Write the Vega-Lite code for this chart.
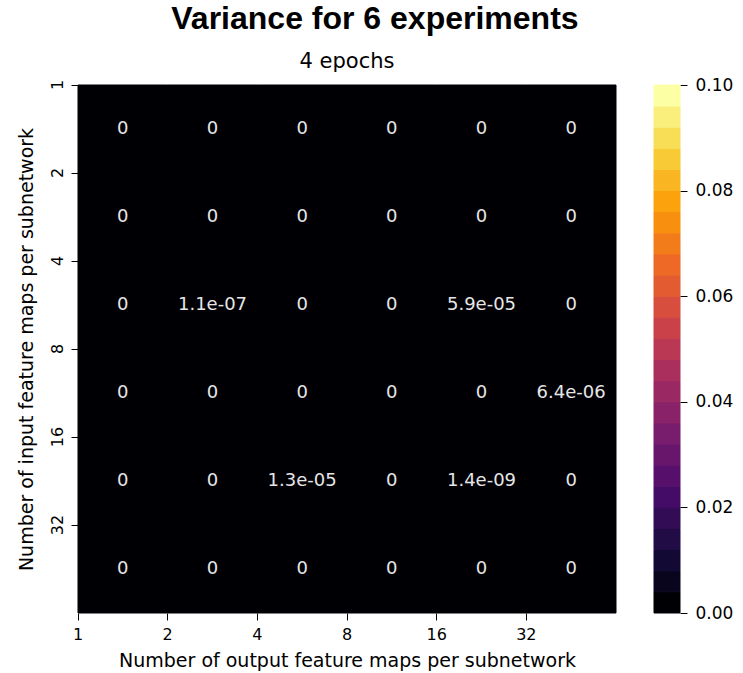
{
  "$schema": "https://vega.github.io/schema/vega-lite/v6.json",
  "background": "white",
  "padding": {"left": 17, "top": 3, "right": 5, "bottom": 5},
  "title": {
    "text": "Variance for 6 experiments",
    "font": "Liberation Sans",
    "fontSize": 32,
    "fontWeight": "bold",
    "color": "#000000",
    "anchor": "middle",
    "offset": 15
  },
  "config": {
    "view": {"stroke": null},
    "font": "DejaVu Sans",
    "axis": {
      "labelFont": "DejaVu Sans",
      "titleFont": "DejaVu Sans",
      "labelFontSize": 16,
      "titleFontSize": 19,
      "titleFontWeight": "normal",
      "labelColor": "#000000",
      "titleColor": "#000000",
      "tickColor": "#000000",
      "tickSize": 7,
      "domain": false,
      "grid": false
    }
  },
  "spacing": 36,
  "resolve": {"scale": {"color": "independent", "stroke": "independent"}},
  "hconcat": [
    {
      "width": 538,
      "height": 528,
      "title": {
        "text": "4 epochs",
        "font": "DejaVu Sans",
        "fontSize": 21,
        "fontWeight": "normal",
        "color": "#000000",
        "anchor": "middle",
        "offset": 7
      },
      "data": {
        "values": [
          {"inp": 1, "out": 1, "v": 0, "label": "0"},
          {"inp": 1, "out": 2, "v": 0, "label": "0"},
          {"inp": 1, "out": 4, "v": 0, "label": "0"},
          {"inp": 1, "out": 8, "v": 0, "label": "0"},
          {"inp": 1, "out": 16, "v": 0, "label": "0"},
          {"inp": 1, "out": 32, "v": 0, "label": "0"},
          {"inp": 2, "out": 1, "v": 0, "label": "0"},
          {"inp": 2, "out": 2, "v": 0, "label": "0"},
          {"inp": 2, "out": 4, "v": 0, "label": "0"},
          {"inp": 2, "out": 8, "v": 0, "label": "0"},
          {"inp": 2, "out": 16, "v": 0, "label": "0"},
          {"inp": 2, "out": 32, "v": 0, "label": "0"},
          {"inp": 4, "out": 1, "v": 0, "label": "0"},
          {"inp": 4, "out": 2, "v": 1.1e-07, "label": "1.1e-07"},
          {"inp": 4, "out": 4, "v": 0, "label": "0"},
          {"inp": 4, "out": 8, "v": 0, "label": "0"},
          {"inp": 4, "out": 16, "v": 5.9e-05, "label": "5.9e-05"},
          {"inp": 4, "out": 32, "v": 0, "label": "0"},
          {"inp": 8, "out": 1, "v": 0, "label": "0"},
          {"inp": 8, "out": 2, "v": 0, "label": "0"},
          {"inp": 8, "out": 4, "v": 0, "label": "0"},
          {"inp": 8, "out": 8, "v": 0, "label": "0"},
          {"inp": 8, "out": 16, "v": 0, "label": "0"},
          {"inp": 8, "out": 32, "v": 6.4e-06, "label": "6.4e-06"},
          {"inp": 16, "out": 1, "v": 0, "label": "0"},
          {"inp": 16, "out": 2, "v": 0, "label": "0"},
          {"inp": 16, "out": 4, "v": 1.3e-05, "label": "1.3e-05"},
          {"inp": 16, "out": 8, "v": 0, "label": "0"},
          {"inp": 16, "out": 16, "v": 1.4e-09, "label": "1.4e-09"},
          {"inp": 16, "out": 32, "v": 0, "label": "0"},
          {"inp": 32, "out": 1, "v": 0, "label": "0"},
          {"inp": 32, "out": 2, "v": 0, "label": "0"},
          {"inp": 32, "out": 4, "v": 0, "label": "0"},
          {"inp": 32, "out": 8, "v": 0, "label": "0"},
          {"inp": 32, "out": 16, "v": 0, "label": "0"},
          {"inp": 32, "out": 32, "v": 0, "label": "0"}
        ]
      },
      "encoding": {
        "x": {
          "field": "out",
          "type": "ordinal",
          "sort": [1, 2, 4, 8, 16, 32],
          "scale": {"paddingInner": 0, "paddingOuter": 0},
          "axis": {
            "title": "Number of output feature maps per subnetwork",
            "labelAngle": 0,
            "bandPosition": 0,
            "labelOffset": -44.83,
            "labelPadding": 6,
            "titlePadding": 9
          }
        },
        "y": {
          "field": "inp",
          "type": "ordinal",
          "sort": [1, 2, 4, 8, 16, 32],
          "scale": {"paddingInner": 0, "paddingOuter": 0},
          "axis": {
            "title": "Number of input feature maps per subnetwork",
            "labelAngle": 270,
            "labelAlign": "center",
            "labelBaseline": "bottom",
            "bandPosition": 0,
            "labelOffset": -44,
            "labelPadding": 6,
            "titlePadding": 13
          }
        }
      },
      "layer": [
        {
          "mark": {"type": "rect", "strokeWidth": 1},
          "encoding": {
            "color": {
              "field": "v",
              "type": "quantitative",
              "scale": {
                "type": "quantize",
                "domain": [0, 0.1],
                "range": ["#000004", "#08051d", "#120a35", "#210c46", "#330c56", "#440c66", "#56106c", "#67166c", "#781c6d", "#892268", "#9a2863", "#aa2f5d", "#ba3853", "#ca4149", "#d74d3e", "#e25b31", "#ed6925", "#f27c19", "#f88f0e", "#fba20d", "#f9b622", "#f8ca36", "#f8dd57", "#faee7d", "#fcffa4"]
              },
              "legend": null
            },
            "stroke": {
              "field": "v",
              "type": "quantitative",
              "scale": {
                "type": "quantize",
                "domain": [0, 0.1],
                "range": ["#000004", "#08051d", "#120a35", "#210c46", "#330c56", "#440c66", "#56106c", "#67166c", "#781c6d", "#892268", "#9a2863", "#aa2f5d", "#ba3853", "#ca4149", "#d74d3e", "#e25b31", "#ed6925", "#f27c19", "#f88f0e", "#fba20d", "#f9b622", "#f8ca36", "#f8dd57", "#faee7d", "#fcffa4"]
              },
              "legend": null
            }
          }
        },
        {
          "mark": {"type": "text", "fontSize": 18, "font": "DejaVu Sans", "color": "#e6e6e6"},
          "encoding": {
            "text": {"field": "label", "type": "nominal"}
          }
        }
      ]
    },
    {
      "width": 26,
      "height": 528,
      "data": {
        "values": [
          {"lo": 0.000, "hi": 0.004, "mid": 0.002},
          {"lo": 0.004, "hi": 0.008, "mid": 0.006},
          {"lo": 0.008, "hi": 0.012, "mid": 0.010},
          {"lo": 0.012, "hi": 0.016, "mid": 0.014},
          {"lo": 0.016, "hi": 0.020, "mid": 0.018},
          {"lo": 0.020, "hi": 0.024, "mid": 0.022},
          {"lo": 0.024, "hi": 0.028, "mid": 0.026},
          {"lo": 0.028, "hi": 0.032, "mid": 0.030},
          {"lo": 0.032, "hi": 0.036, "mid": 0.034},
          {"lo": 0.036, "hi": 0.040, "mid": 0.038},
          {"lo": 0.040, "hi": 0.044, "mid": 0.042},
          {"lo": 0.044, "hi": 0.048, "mid": 0.046},
          {"lo": 0.048, "hi": 0.052, "mid": 0.050},
          {"lo": 0.052, "hi": 0.056, "mid": 0.054},
          {"lo": 0.056, "hi": 0.060, "mid": 0.058},
          {"lo": 0.060, "hi": 0.064, "mid": 0.062},
          {"lo": 0.064, "hi": 0.068, "mid": 0.066},
          {"lo": 0.068, "hi": 0.072, "mid": 0.070},
          {"lo": 0.072, "hi": 0.076, "mid": 0.074},
          {"lo": 0.076, "hi": 0.080, "mid": 0.078},
          {"lo": 0.080, "hi": 0.084, "mid": 0.082},
          {"lo": 0.084, "hi": 0.088, "mid": 0.086},
          {"lo": 0.088, "hi": 0.092, "mid": 0.090},
          {"lo": 0.092, "hi": 0.096, "mid": 0.094},
          {"lo": 0.096, "hi": 0.100, "mid": 0.098}
        ]
      },
      "mark": {"type": "rect", "strokeWidth": 1},
      "encoding": {
        "y": {
          "field": "lo",
          "type": "quantitative",
          "scale": {"domain": [0, 0.1], "nice": false, "zero": false},
          "axis": {
            "orient": "right",
            "title": null,
            "values": [0, 0.02, 0.04, 0.06, 0.08, 0.1],
            "format": ".2f",
            "labelPadding": 8,
            "labelFontSize": 17
          }
        },
        "y2": {"field": "hi"},
        "color": {
          "field": "mid",
          "type": "quantitative",
          "scale": {
            "type": "quantize",
            "domain": [0, 0.1],
            "range": ["#000004", "#08051d", "#120a35", "#210c46", "#330c56", "#440c66", "#56106c", "#67166c", "#781c6d", "#892268", "#9a2863", "#aa2f5d", "#ba3853", "#ca4149", "#d74d3e", "#e25b31", "#ed6925", "#f27c19", "#f88f0e", "#fba20d", "#f9b622", "#f8ca36", "#f8dd57", "#faee7d", "#fcffa4"]
          },
          "legend": null
        },
        "stroke": {
          "field": "mid",
          "type": "quantitative",
          "scale": {
            "type": "quantize",
            "domain": [0, 0.1],
            "range": ["#000004", "#08051d", "#120a35", "#210c46", "#330c56", "#440c66", "#56106c", "#67166c", "#781c6d", "#892268", "#9a2863", "#aa2f5d", "#ba3853", "#ca4149", "#d74d3e", "#e25b31", "#ed6925", "#f27c19", "#f88f0e", "#fba20d", "#f9b622", "#f8ca36", "#f8dd57", "#faee7d", "#fcffa4"]
          },
          "legend": null
        }
      }
    }
  ]
}
